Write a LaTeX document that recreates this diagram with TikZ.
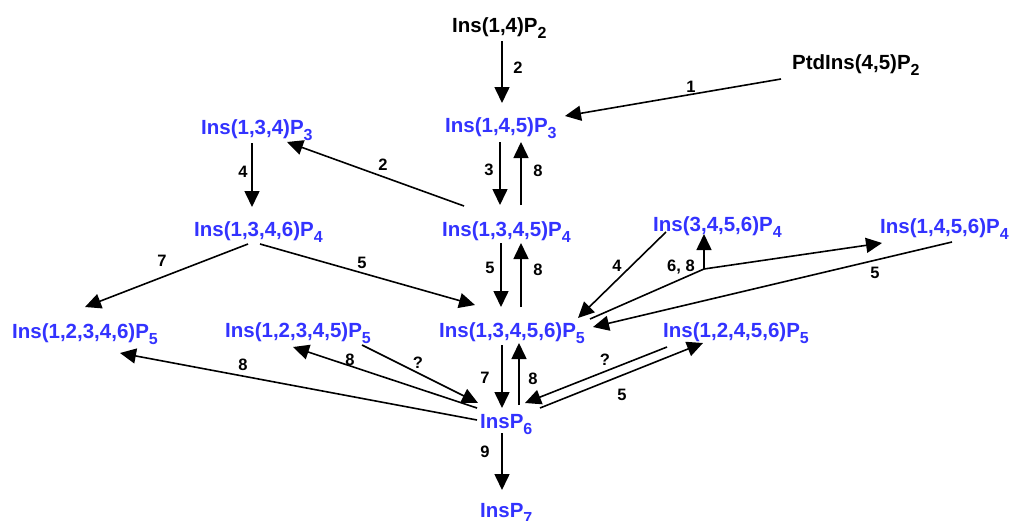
\documentclass[tikz,border=0pt]{standalone}
\usepackage{fontspec}
\setmainfont{Liberation Sans}
\usetikzlibrary{arrows.meta}
\definecolor{insblue}{RGB}{51,51,255}
\newcommand{\lowsub}[1]{\raisebox{-6pt}{\fontsize{16}{16}\selectfont #1}}

\begin{document}
\begin{tikzpicture}[x=1pt,y=-1pt,
  knode/.style={anchor=base west, inner sep=0pt, font=\fontsize{20.5}{24}\selectfont\bfseries},
  inode/.style={knode, text=insblue},
  lab/.style={font=\fontsize{16.5}{18}\selectfont\bfseries, inner sep=0pt},
  arr/.style={-{Triangle[length=16pt,width=15pt]}, line width=1.6pt},
  ln/.style={line width=1.6pt, line join=round}]

\useasboundingbox[fill=white] (0,0) rectangle (1013,520);

% compounds
\node[knode] (a)  at (452,32)  {Ins(1,4)P\lowsub{2}};
\node[knode] (pt) at (792,69)  {PtdIns(4,5)P\lowsub{2}};
\node[inode] (e)  at (445,132) {Ins(1,4,5)P\lowsub{3}};
\node[inode] (c3) at (201,134) {Ins(1,3,4)P\lowsub{3}};
\node[inode] (c4) at (194,236) {Ins(1,3,4,6)P\lowsub{4}};
\node[inode] (m)  at (442,236) {Ins(1,3,4,5)P\lowsub{4}};
\node[inode] (f)  at (653,231) {Ins(3,4,5,6)P\lowsub{4}};
\node[inode] (g)  at (880,233) {Ins(1,4,5,6)P\lowsub{4}};
\node[inode] (d1) at (12,338)  {Ins(1,2,3,4,6)P\lowsub{5}};
\node[inode] (d2) at (225,337) {Ins(1,2,3,4,5)P\lowsub{5}};
\node[inode] (d3) at (439,337) {Ins(1,3,4,5,6)P\lowsub{5}};
\node[inode] (d4) at (663,337) {Ins(1,2,4,5,6)P\lowsub{5}};
\node[inode] (h)  at (480,428) {InsP\lowsub{6}};
\node[inode] (k)  at (480,517) {InsP\lowsub{7}};

% top part
\draw[arr] ([shift={(50,9)}]a.base west) -- ([shift={(57,-29)}]e.base west);
\node[lab] at (518,68) {2};
\draw[arr] ([shift={(-11,10)}]pt.base west) -- ([shift={(120,-16)}]e.base west);
\node[lab] at (691,87) {1};

\draw[arr] ([shift={(55,10)}]e.base west) -- ([shift={(58,-31)}]m.base west);
\node[lab] at (489,170) {3};
\draw[arr] ([shift={(79,-31)}]m.base west) -- ([shift={(76,10)}]e.base west);
\node[lab] at (538,171) {8};

\draw[arr] ([shift={(22,-30)}]m.base west) -- ([shift={(86,8)}]c3.base west);
\node[lab] at (383,165) {2};
\draw[arr] ([shift={(51,9)}]c3.base west) -- ([shift={(58,-29)}]c4.base west);
\node[lab] at (243,172) {4};

% middle part
\draw[arr] ([shift={(54,8)}]c4.base west) -- ([shift={(73,-31)}]d1.base west);
\node[lab] at (162,261) {7};
\draw[arr] ([shift={(66,8)}]c4.base west) -- ([shift={(36,-32)}]d3.base west);
\node[lab] at (362,263) {5};

\draw[arr] ([shift={(59,7)}]m.base west) -- ([shift={(62,-30)}]d3.base west);
\node[lab] at (490,268) {5};
\draw[arr] ([shift={(82,-30)}]d3.base west) -- ([shift={(79,7)}]m.base west);
\node[lab] at (538,270) {8};

\draw[arr] ([shift={(13,1)}]f.base west) -- ([shift={(139,-19)}]d3.base west);
\node[lab] at (617,266) {4};

\coordinate (j) at (704,269);
\draw[ln] ([shift={(151,-18)}]d3.base west) -- (j);
\draw[arr] (j) -- ([shift={(51,3)}]f.base west);
\draw[arr] (j) -- ([shift={(2,10)}]g.base west);
\node[lab] at (681,267) {6, 8};

\draw[arr] ([shift={(72,9)}]g.base west) -- ([shift={(154,-10)}]d3.base west);
\node[lab] at (875,273) {5};

% bottom part
\draw[arr] ([shift={(-3,-8)}]h.base west) -- ([shift={(108,15)}]d1.base west);
\node[lab] at (243,365) {8};
\draw[arr] ([shift={(-3,-20)}]h.base west) -- ([shift={(68,10)}]d2.base west);
\node[lab] at (350,360) {8};
\draw[arr] ([shift={(137,8)}]d2.base west) -- ([shift={(-2,-25)}]h.base west);
\node[lab] at (418,363) {?};

\draw[arr] ([shift={(63,8)}]d3.base west) -- ([shift={(22,-20)}]h.base west);
\node[lab] at (485,378) {7};
\draw[arr] ([shift={(39,-23)}]h.base west) -- ([shift={(80,6)}]d3.base west);
\node[lab] at (533,379) {8};

\draw[arr] ([shift={(4,10)}]d4.base west) -- ([shift={(45,-25)}]h.base west);
\node[lab] at (605,360) {?};
\draw[arr] ([shift={(60,-20)}]h.base west) -- ([shift={(40,6)}]d4.base west);
\node[lab] at (622,395) {5};

\draw[arr] ([shift={(22,5)}]h.base west) -- ([shift={(22,-27)}]k.base west);
\node[lab] at (485,452) {9};
\end{tikzpicture}
\end{document}
